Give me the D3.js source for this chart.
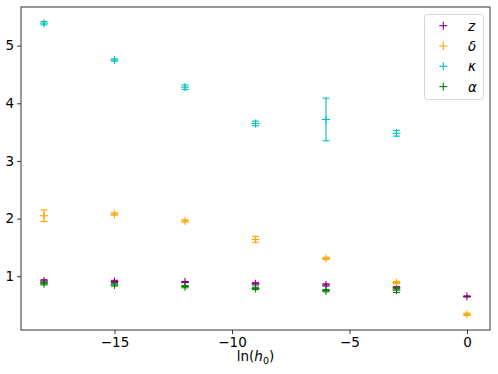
<!DOCTYPE html>
<html><head><meta charset="utf-8">
<script src="https://cdn.jsdelivr.net/npm/d3@7"></script>
<style>body{margin:0;background:#fff}svg{display:block}text{font-family:"DejaVu Sans",sans-serif}</style>
</head><body><svg id="c" width="498" height="374"></svg>
<script>
const xs = [-18,-15,-12,-9,-6,-3,0];
const zVals = [0.92,0.91,0.90,0.87,0.85,0.80,0.65];
const zErr = [0.02,0.02,0.01,0.02,0.02,0.02,0.01];
const deltaVals = [2.05,2.08,1.96,1.64,1.31,0.89,0.34];
const deltaErr = [0.10,0.02,0.02,0.05,0.02,0.02,0.02];
const kappaVals = [5.39,4.75,4.28,3.65,3.72,3.48];
const kappaErr = [0.03,0.02,0.04,0.04,0.37,0.05];
const alphaVals = [0.87,0.85,0.82,0.79,0.75,0.76];
const alphaErr = [0.02,0.02,0.02,0.02,0.02,0.04];
const xTicks = [-15,-10,-5,0];
const yTicks = [1,2,3,4,5];
const seriesNames = ["z","δ","κ","α"];

const series = [
  {name: seriesNames[0], vals: zVals, err: zErr, color: "#800080"},
  {name: seriesNames[1], vals: deltaVals, err: deltaErr, color: "#ffa500"},
  {name: seriesNames[2], vals: kappaVals, err: kappaErr, color: "#00bfbf"},
  {name: seriesNames[3], vals: alphaVals, err: alphaErr, color: "#008000"}
];

const L = 21, R = 490, T = 7, B = 330;
const svg = d3.select("#c");
const x = d3.scaleLinear().domain([-18.98, 0.98]).range([L, R]);
const y = d3.scaleLinear().domain([0.068, 5.67]).range([B, T]);

const plot = svg.append("g");
series.forEach(s => {
  const g = plot.append("g").attr("stroke", s.color).attr("stroke-width", 1.1).attr("fill", "none");
  s.vals.forEach((v, i) => {
    const cx = x(xs[i]), cy = y(v);
    const y1 = y(v - s.err[i]), y2 = y(v + s.err[i]);
    g.append("line").attr("x1", cx).attr("x2", cx).attr("y1", y1).attr("y2", y2);
    g.append("line").attr("x1", cx - 3.5).attr("x2", cx + 3.5).attr("y1", y1).attr("y2", y1);
    g.append("line").attr("x1", cx - 3.5).attr("x2", cx + 3.5).attr("y1", y2).attr("y2", y2);
    g.append("line").attr("x1", cx - 4).attr("x2", cx + 4).attr("y1", cy).attr("y2", cy);
    g.append("line").attr("x1", cx).attr("x2", cx).attr("y1", cy - 4).attr("y2", cy + 4);
  });
});

// axes
const xa = svg.append("g").attr("transform", `translate(0,${B})`)
  .call(d3.axisBottom(x).tickValues(xTicks).tickSize(4).tickPadding(3).tickFormat(d => d < 0 ? "\u2212" + Math.abs(d) : String(d)));
const ya = svg.append("g").attr("transform", `translate(${L},0)`)
  .call(d3.axisLeft(y).tickValues(yTicks).tickSize(4).tickPadding(3).tickFormat(d3.format("d")));
[xa, ya].forEach(a => {
  a.select(".domain").remove();
  a.selectAll("text").attr("font-size", 13.5).attr("fill", "#000").attr("font-family", "DejaVu Sans");
  a.selectAll("line").attr("stroke", "#000").attr("stroke-width", 0.8);
});
svg.append("rect").attr("x", L).attr("y", T).attr("width", R - L).attr("height", B - T)
  .attr("fill", "none").attr("stroke", "#333").attr("stroke-width", 1);

// x label
const xl = svg.append("text").attr("x", (L + R) / 2).attr("y", 361).attr("text-anchor", "middle").attr("font-size", 13.5);
xl.append("tspan").text("ln(");
xl.append("tspan").attr("font-style", "italic").text("h");
xl.append("tspan").attr("font-size", 9.5).attr("dy", 3).text("0");
xl.append("tspan").attr("dy", -3).text(")");

// legend
const lg = svg.append("g");
lg.append("rect").attr("x", 424.5).attr("y", 14.5).attr("width", 59).attr("height", 85).attr("rx", 3)
  .attr("fill", "#fff").attr("fill-opacity", 0.8).attr("stroke", "#d6d6d6");
series.forEach((s, i) => {
  const cy = 25.7 + i * 20.3, cx = 443.3;
  lg.append("line").attr("x1", cx - 4).attr("x2", cx + 4).attr("y1", cy).attr("y2", cy).attr("stroke", s.color).attr("stroke-width", 1.1);
  lg.append("line").attr("x1", cx).attr("x2", cx).attr("y1", cy - 4).attr("y2", cy + 4).attr("stroke", s.color).attr("stroke-width", 1.1);
  lg.append("text").attr("x", 468).attr("y", cy + 5).attr("font-size", 13.5).attr("font-style", "italic").text(s.name);
});
</script></body></html>
